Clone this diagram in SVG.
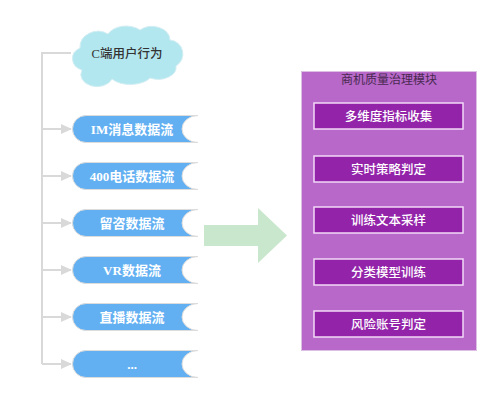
<svg xmlns="http://www.w3.org/2000/svg" xmlns:xlink="http://www.w3.org/1999/xlink" width="499" height="412" viewBox="0 0 499 412">
<style>
.conn{fill:none;stroke:#d9d9d9;stroke-width:2}
.pill{fill:#62b0f2;stroke:#dcdcdc;stroke-width:1}
.ptxt{font-family:"Liberation Serif","Noto Sans CJK SC",serif;font-size:13px;font-weight:600;fill:#ffffff;text-anchor:middle}
.box{fill:#9324aa;stroke:#f2d9f6;stroke-width:1.5}
.btxt{font-family:"Liberation Serif","Noto Sans CJK SC",serif;font-size:12.5px;font-weight:500;fill:#ffffff;text-anchor:middle}
</style>
<defs>
<marker id="ah" markerWidth="11" markerHeight="10" refX="10" refY="5" orient="auto" markerUnits="userSpaceOnUse">
<path d="M0,0 L11,5 L0,10 Z" fill="#d9d9d9"/>
</marker>
<path id="pillshape" d="M86,-13.5 H198 A16 13.5 0 0 0 198,13.5 H86 A13.5 13.5 0 0 1 86,-13.5 Z"/>
</defs>
<rect width="499" height="412" fill="#ffffff"/>
<g id="connectors">
<path class="conn" d="M71,53 H42 V364"/>
<path class="conn" d="M42,129 H71" marker-end="url(#ah)"/>
<path class="conn" d="M42,176 H71" marker-end="url(#ah)"/>
<path class="conn" d="M42,223 H71" marker-end="url(#ah)"/>
<path class="conn" d="M42,270 H71" marker-end="url(#ah)"/>
<path class="conn" d="M42,317 H71" marker-end="url(#ah)"/>
<path class="conn" d="M42,364 H71" marker-end="url(#ah)"/>
</g>
<g id="cloud">
<path d="M82,70 A14 12 0 0 1 80,48 A18 16 0 0 1 108,34 A20 14 0 0 1 140,30 A18 14 0 0 1 170,40 A14 14 0 0 1 176,66 A18 12 0 0 1 150,78 A22 12 0 0 1 112,79 A16 12 0 0 1 82,70 Z" fill="#b3e7f0" stroke="#d3eef3" stroke-width="1"/>
<text x="127" y="58" style="font-family:'Liberation Serif','Noto Sans CJK SC',serif;font-size:12.5px;font-weight:500;fill:#333333;text-anchor:middle">C端用户行为</text>
</g>
<g id="im"><use xlink:href="#pillshape" class="pill" y="129"/><text class="ptxt" x="132" y="133.5">IM消息数据流</text></g>
<g id="tel"><use xlink:href="#pillshape" class="pill" y="176"/><text class="ptxt" x="132" y="180.5">400电话数据流</text></g>
<g id="liuzi"><use xlink:href="#pillshape" class="pill" y="223"/><text class="ptxt" x="132" y="227.5">留咨数据流</text></g>
<g id="vr"><use xlink:href="#pillshape" class="pill" y="270"/><text class="ptxt" x="132" y="274.5">VR数据流</text></g>
<g id="live"><use xlink:href="#pillshape" class="pill" y="317"/><text class="ptxt" x="132" y="321.5">直播数据流</text></g>
<g id="more"><use xlink:href="#pillshape" class="pill" y="364"/><text class="ptxt" x="132" y="368.5">...</text></g>
<g id="bigarrow">
<path d="M204,225 H258 V208 L287,235.5 L258,263 V246 H204 Z" fill="#c9e7cc"/>
</g>
<g id="module">
<rect x="301.5" y="71.5" width="175" height="279" fill="#b768c9" stroke="#dcc0e3" stroke-width="1"/>
<text x="389" y="84" style="font-family:'Liberation Serif','Noto Sans CJK SC',serif;font-size:12px;fill:#4a2850;text-anchor:middle">商机质量治理模块</text>
</g>
<g id="m1"><rect class="box" x="314" y="103" width="149" height="26"/><text class="btxt" x="388.5" y="120.5">多维度指标收集</text></g>
<g id="m2"><rect class="box" x="314" y="156" width="149" height="26"/><text class="btxt" x="388.5" y="173.5">实时策略判定</text></g>
<g id="m3"><rect class="box" x="314" y="207" width="149" height="26"/><text class="btxt" x="388.5" y="224.5">训练文本采样</text></g>
<g id="m4"><rect class="box" x="314" y="259" width="149" height="26"/><text class="btxt" x="388.5" y="276.5">分类模型训练</text></g>
<g id="m5"><rect class="box" x="314" y="311" width="149" height="26"/><text class="btxt" x="388.5" y="328.5">风险账号判定</text></g>
</svg>
